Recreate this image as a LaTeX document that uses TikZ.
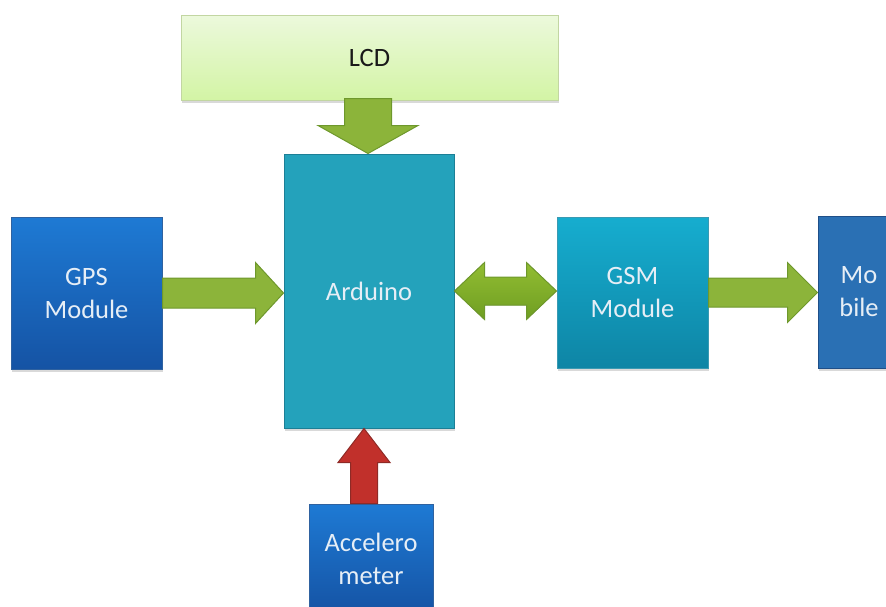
\documentclass[tikz,border=0pt]{standalone}
\usepackage{fontspec}
\setmainfont{Carlito}
\usetikzlibrary{calc,shadows}

\definecolor{lcdtop}{HTML}{ECF9DC}
\definecolor{lcdbot}{HTML}{D3F4A5}
\definecolor{lcdline}{HTML}{C2D6A2}
\definecolor{ardfill}{HTML}{24A2BB}
\definecolor{ardline}{HTML}{1C7F96}
\definecolor{bluetop}{HTML}{1E7AD4}
\definecolor{bluebot}{HTML}{1553A4}
\definecolor{blueline}{HTML}{2F62A0}
\definecolor{gsmtop}{HTML}{16ADCF}
\definecolor{gsmbot}{HTML}{0E85A5}
\definecolor{gsmline}{HTML}{3A9AB2}
\definecolor{mobfill}{HTML}{2A70B4}
\definecolor{mobline}{HTML}{1F4F88}
\definecolor{grnfill}{HTML}{8CB43A}
\definecolor{grnline}{HTML}{6E982C}
\definecolor{grntop}{HTML}{92BD32}
\definecolor{grnbot}{HTML}{6F9E22}
\definecolor{redfill}{HTML}{C1302B}
\definecolor{redline}{HTML}{8E2A26}
\definecolor{boxtext}{HTML}{E6EEF6}

% arrow macros: style, start, tip, shaft half width, head half width, head length
\newcommand{\arrowright}[6]{%
\filldraw[#1] let \p1=(#2), \p2=(#3) in
(\x1,\y1+#4pt) -- (\x2-#6pt,\y1+#4pt) -- (\x2-#6pt,\y1+#5pt) -- (\x2,\y1)
-- (\x2-#6pt,\y1-#5pt) -- (\x2-#6pt,\y1-#4pt) -- (\x1,\y1-#4pt) -- cycle;}
\newcommand{\arrowboth}[6]{%
\filldraw[#1] let \p1=(#2), \p2=(#3) in
(\x1,\y1) -- (\x1+#6pt,\y1+#5pt) -- (\x1+#6pt,\y1+#4pt) -- (\x2-#6pt,\y1+#4pt)
-- (\x2-#6pt,\y1+#5pt) -- (\x2,\y1) -- (\x2-#6pt,\y1-#5pt) -- (\x2-#6pt,\y1-#4pt)
-- (\x1+#6pt,\y1-#4pt) -- (\x1+#6pt,\y1-#5pt) -- cycle;}
\newcommand{\arrowdown}[6]{%
\filldraw[#1] let \p1=(#2), \p2=(#3) in
(\x1-#4pt,\y1) -- (\x1-#4pt,\y2+#6pt) -- (\x1-#5pt,\y2+#6pt) -- (\x1,\y2)
-- (\x1+#5pt,\y2+#6pt) -- (\x1+#4pt,\y2+#6pt) -- (\x1+#4pt,\y1) -- cycle;}
\newcommand{\arrowup}[6]{%
\filldraw[#1] let \p1=(#2), \p2=(#3) in
(\x1-#4pt,\y1) -- (\x1-#4pt,\y2-#6pt) -- (\x1-#5pt,\y2-#6pt) -- (\x1,\y2)
-- (\x1+#5pt,\y2-#6pt) -- (\x1+#4pt,\y2-#6pt) -- (\x1+#4pt,\y1) -- cycle;}

\begin{document}
\begin{tikzpicture}[x=1pt,y=-1pt,
block/.style={rectangle, draw, line width=1pt, align=center, text=boxtext,
  font=\fontsize{26.5}{33}\selectfont, minimum width=151pt, minimum height=152pt,
  drop shadow={shadow xshift=1pt, shadow yshift=-2.5pt, opacity=.3}},
lcdblock/.style={block, draw=lcdline, top color=lcdtop, bottom color=lcdbot, text=black!90},
ardblock/.style={block, draw=ardline, fill=ardfill},
blueblock/.style={block, draw=blueline, top color=bluetop, bottom color=bluebot},
gsmblock/.style={block, draw=gsmline, top color=gsmtop, bottom color=gsmbot},
mobblock/.style={block, draw=mobline, fill=mobfill},
grnarrow/.style={draw=grnline, fill=grnfill, line width=1pt, line join=miter},
grnshade/.style={draw=grnline, top color=grntop, bottom color=grnbot, line width=1pt},
redarrow/.style={draw=redline, fill=redfill, line width=1pt}]
\useasboundingbox (0,0) rectangle (886,606);
\clip (0,0) rectangle (886,606);

\node[lcdblock, minimum width=377pt, minimum height=85pt] (lcd) at (369.5,57.5) {LCD};
\node[ardblock, minimum width=170pt, minimum height=274pt] (ard) at (369,291) {Arduino};
\node[blueblock] (gps) at (86.5,293) {GPS\\Module};
\node[gsmblock, minimum height=151pt] (gsm) at (632.5,292.5) {GSM\\Module};
\node[mobblock, minimum width=82pt] (mob) at (859,292) {Mo\\bile};
\node[blueblock, minimum width=124pt, minimum height=110pt] (acc) at (371,559) {Accelero\\meter};

\arrowdown{grnarrow}{$(ard.north |- lcd.south)+(-1,-2)$}{$(ard.north)+(-1,0)$}{23.5}{50}{28}
\arrowright{grnarrow}{gps.east}{ard.west}{15}{30.5}{28}
\arrowboth{grnshade}{ard.east}{gsm.west}{14}{28.5}{30}
\arrowright{grnarrow}{gsm.east}{mob.west}{14.5}{30}{30}
\arrowup{redarrow}{$(acc.north)+(-7,0)$}{ard.south}{13.5}{26}{34}
\end{tikzpicture}
\end{document}
